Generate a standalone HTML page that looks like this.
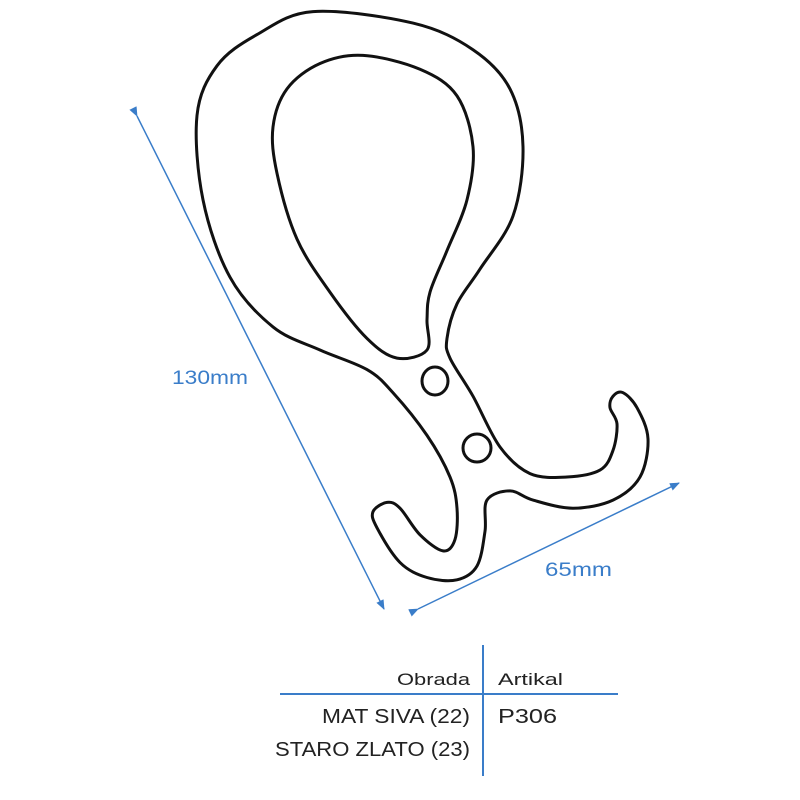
<!DOCTYPE html>
<html><head><meta charset="utf-8"><style>
html,body{margin:0;padding:0;background:#fff;width:800px;height:800px;overflow:hidden}
svg{display:block}
text{font-family:"Liberation Sans",sans-serif}
</style></head><body>
<svg id="s" width="800" height="800" viewBox="0 0 800 800">
<defs><marker id="a" markerWidth="10" markerHeight="8" refX="9" refY="4" orient="auto" markerUnits="userSpaceOnUse"><path d="M0,0 L10,4 L0,8 z" fill="#3a7dc9"/></marker></defs>
<g stroke="#3a7dc9" stroke-width="1.5" fill="none">
<line x1="137" y1="116" x2="384" y2="609" marker-end="url(#a)" marker-start="url(#a)"/>
<line x1="418" y1="609" x2="679" y2="483" marker-end="url(#a)" marker-start="url(#a)"/>
<line x1="483" y1="645" x2="483" y2="776" stroke-width="2"/>
<line x1="280" y1="694" x2="618" y2="694" stroke-width="2"/>
</g>
<text x="172" y="384" fill="#3a7dc9" font-size="19" textLength="76" lengthAdjust="spacingAndGlyphs">130mm</text>
<text x="545" y="576" fill="#3a7dc9" font-size="19" textLength="67" lengthAdjust="spacingAndGlyphs">65mm</text>
<g fill="#222">
<text x="397" y="685" font-size="17" textLength="73" lengthAdjust="spacingAndGlyphs">Obrada</text>
<text x="498" y="685" font-size="17" textLength="65" lengthAdjust="spacingAndGlyphs">Artikal</text>
<text x="322" y="723" font-size="20" textLength="148" lengthAdjust="spacingAndGlyphs">MAT SIVA (22)</text>
<text x="498" y="723" font-size="20" textLength="59" lengthAdjust="spacingAndGlyphs">P306</text>
<text x="275" y="756" font-size="20" textLength="195" lengthAdjust="spacingAndGlyphs">STARO ZLATO (23)</text>
</g>
<path id="o" fill="none" stroke="#111" stroke-width="3" stroke-linejoin="round"/>
<path id="i" fill="none" stroke="#111" stroke-width="3" stroke-linejoin="round"/>
<ellipse cx="435" cy="381" rx="13" ry="14" fill="none" stroke="#111" stroke-width="3"/>
<ellipse cx="477" cy="448" rx="14" ry="14" fill="none" stroke="#111" stroke-width="3"/>
</svg>
<script>
var K=1.155;
function sm(p){p=p.map(function(q){return [q[0],+(q[1]*K).toFixed(1)]});var n=p.length,d="M"+p[0][0]+","+p[0][1];
for(var k=0;k<n;k++){var p0=p[(k-1+n)%n],p1=p[k],p2=p[(k+1)%n],p3=p[(k+2)%n];
d+=" C"+(p1[0]+(p2[0]-p0[0])/6).toFixed(1)+","+(p1[1]+(p2[1]-p0[1])/6).toFixed(1)+" "+(p2[0]-(p3[0]-p1[0])/6).toFixed(1)+","+(p2[1]-(p3[1]-p1[1])/6).toFixed(1)+" "+p2[0]+","+p2[1];}
return d+"Z";}
var o=[[313,10],[413,20],[473,43],[510,77],[523,127],[513,187],[480,233],[457,263],[447,293],[450,310],[473,343],[500,387],[530,410],[567,413],[600,407],[613,390],[617,367],[610,353],[613,343],[623,340],[637,353],[648,380],[640,413],[613,433],[573,440],[533,433],[510,425],[487,433],[485,460],[477,490],[457,502],[427,500],[400,487],[377,457],[373,443],[387,435],[400,440],[420,463],[443,477],[455,467],[457,440],[450,413],[427,377],[393,340],[367,320],[320,303],[273,283],[230,240],[203,173],[197,100],[217,57],[257,30]];
var i=[[363,48],[420,60],[457,83],[473,127],[467,173],[447,217],[430,253],[427,277],[427,303],[397,310],[367,293],[330,253],[297,207],[277,150],[273,110],[287,77],[320,55]];
document.getElementById("o").setAttribute("d",sm(o));
document.getElementById("i").setAttribute("d",sm(i));
</script>
</body></html>
